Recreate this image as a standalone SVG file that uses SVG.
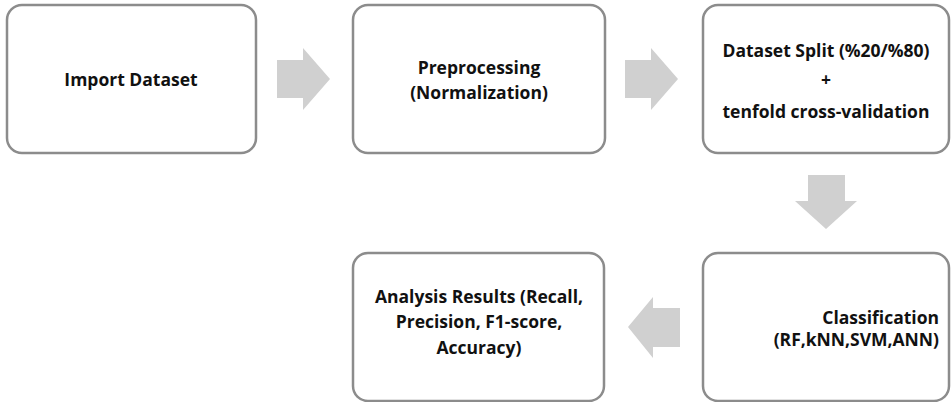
<svg xmlns="http://www.w3.org/2000/svg" width="952" height="402" viewBox="0 0 952 402">
<style>
.box{fill:#ffffff;stroke:#8c8c8c;stroke-width:2.5}
.arr{fill:#d0d0d0;stroke:none}
text{font-family:"Open Sans","Noto Sans","Liberation Sans",sans-serif;font-weight:bold;font-size:17.5px;fill:#111111}
.c{text-anchor:middle}
.r{text-anchor:end}
</style>
<rect width="952" height="402" fill="#ffffff"/>
<g id="connectors">
<polygon class="arr" points="277,60 303,60 303,48 330,79 303,110 303,98 277,98"/>
<polygon class="arr" points="625,60 651,60 651,48 678,79 651,110 651,98 625,98"/>
<polygon class="arr" points="808,175 845,175 845,201 857,201 826,229 795,201 808,201"/>
<polygon class="arr" points="680,308 653,308 653,297 628,327 653,358 653,347 680,347"/>
</g>
<g id="n1">
<rect class="box" x="7" y="5" width="249" height="148" rx="15"/>
<text class="c" x="131" y="86">Import Dataset</text>
</g>
<g id="n2">
<rect class="box" x="353" y="5" width="252" height="148" rx="15"/>
<text class="c" x="479" y="74">Preprocessing</text>
<text class="c" x="479" y="99">(Normalization)</text>
</g>
<g id="n3">
<rect class="box" x="703" y="5" width="246" height="148" rx="15"/>
<text class="c" x="826" y="57">Dataset Split (%20/%80)</text>
<text class="c" x="826" y="86">+</text>
<text class="c" x="826" y="118">tenfold cross-validation</text>
</g>
<g id="n4">
<rect class="box" x="353" y="253" width="251" height="148" rx="15"/>
<text class="c" x="479" y="303">Analysis Results (Recall,</text>
<text class="c" x="479" y="328">Precision, F1-score,</text>
<text class="c" x="479" y="354">Accuracy)</text>
</g>
<g id="n5">
<rect class="box" x="703" y="253" width="246" height="148" rx="15"/>
<text class="r" x="939" y="324">Classification</text>
<text class="r" x="939" y="346">(RF,kNN,SVM,ANN)</text>
</g>
</svg>
